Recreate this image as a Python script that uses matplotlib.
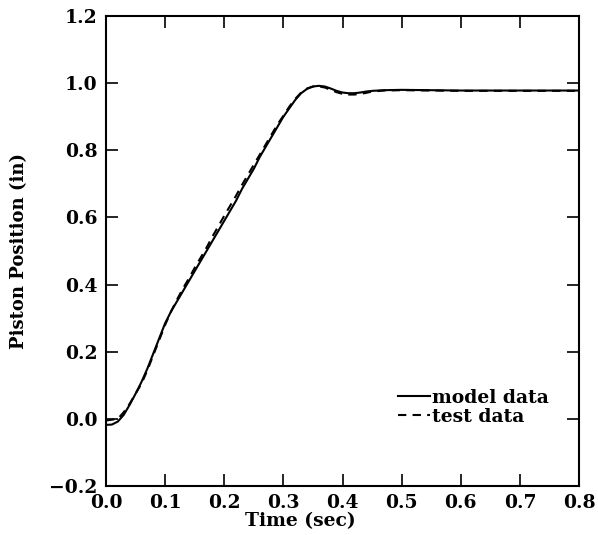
import matplotlib
matplotlib.use("Agg")
import matplotlib.pyplot as plt

# Model data (time in sec, piston position in inches)
model_t = [0.00, 0.01, 0.02, 0.03, 0.04, 0.05, 0.06, 0.07, 0.08, 0.09, 0.10,
           0.11, 0.12, 0.13, 0.14, 0.15, 0.16, 0.17, 0.18, 0.19, 0.20,
           0.21, 0.22, 0.23, 0.24, 0.25, 0.26, 0.27, 0.28, 0.29, 0.30,
           0.31, 0.32, 0.33, 0.34, 0.35, 0.36, 0.37, 0.38, 0.39, 0.40,
           0.41, 0.42, 0.43, 0.44, 0.45, 0.47, 0.50, 0.55, 0.60, 0.70, 0.80]
model_y = [-0.018, -0.017, -0.008, 0.012, 0.042, 0.075, 0.11, 0.15, 0.195, 0.24, 0.285,
           0.32, 0.35, 0.38, 0.41, 0.44, 0.47, 0.50, 0.53, 0.56, 0.59,
           0.62, 0.65, 0.685, 0.715, 0.745, 0.78, 0.81, 0.84, 0.87, 0.90,
           0.925, 0.95, 0.97, 0.983, 0.99, 0.992, 0.99, 0.984, 0.977, 0.972,
           0.970, 0.970, 0.972, 0.975, 0.977, 0.979, 0.980, 0.979, 0.978, 0.978, 0.978]

# Test data
test_t = [0.00, 0.02, 0.03, 0.04, 0.05, 0.06, 0.07, 0.08, 0.09, 0.10,
          0.11, 0.12, 0.13, 0.14, 0.15, 0.16, 0.17, 0.18, 0.19, 0.20,
          0.21, 0.22, 0.23, 0.24, 0.25, 0.26, 0.27, 0.28, 0.29, 0.30,
          0.31, 0.32, 0.33, 0.34, 0.35, 0.36, 0.37, 0.38, 0.39, 0.40,
          0.41, 0.42, 0.43, 0.44, 0.45, 0.47, 0.50, 0.55, 0.60, 0.70, 0.80]
test_y = [-0.005, 0.0, 0.02, 0.045, 0.075, 0.105, 0.145, 0.19, 0.235, 0.28,
          0.32, 0.355, 0.388, 0.418, 0.45, 0.48, 0.51, 0.543, 0.574, 0.605,
          0.635, 0.665, 0.697, 0.727, 0.757, 0.787, 0.817, 0.847, 0.877, 0.903,
          0.93, 0.953, 0.972, 0.984, 0.99, 0.99, 0.987, 0.98, 0.973, 0.968,
          0.966, 0.966, 0.968, 0.971, 0.975, 0.978, 0.979, 0.978, 0.977, 0.977, 0.977]

x_ticks = [0.0, 0.1, 0.2, 0.3, 0.4, 0.5, 0.6, 0.7, 0.8]
y_ticks = [-0.2, 0.0, 0.2, 0.4, 0.6, 0.8, 1.0, 1.2]
x_labels = ["0.0", "0.1", "0.2", "0.3", "0.4", "0.5", "0.6", "0.7", "0.8"]
y_labels = ["\u22120.2", "0.0", "0.2", "0.4", "0.6", "0.8", "1.0", "1.2"]

plt.rcParams['font.family'] = ['DejaVu Serif']
plt.rcParams['font.weight'] = 'bold'

fig = plt.figure(figsize=(5.98, 5.35), dpi=100)
ax = fig.add_axes([0.1773, 0.0916, 0.791, 0.8785])

ax.plot(model_t, model_y, color='black', lw=1.5, label='model data')
ax.plot(test_t, test_y, color='black', lw=1.5, ls=(0, (4, 3)), label='test data')

ax.set_xlim(0.0, 0.8)
ax.set_ylim(-0.2, 1.2)
ax.set_xticks(x_ticks)
ax.set_xticklabels(x_labels)
ax.set_yticks(y_ticks)
ax.set_yticklabels(y_labels)
ax.tick_params(direction='in', length=8.5, width=1.2, top=True, right=True,
               labelsize=13.5, pad=6)
for lab in ax.get_xticklabels() + ax.get_yticklabels():
    lab.set_fontweight('bold')
for sp in ax.spines.values():
    sp.set_linewidth(1.5)

ax.set_xlabel('Time (sec)', fontsize=13.5, fontweight='bold')
ax.xaxis.set_label_coords(0.41, -0.056)
ax.set_ylabel('Piston Position (in)', fontsize=13, fontweight='bold')
ax.yaxis.set_label_coords(-0.165, 0.5)

leg = ax.legend(loc='upper left', bbox_to_anchor=(0.617, 0.207), frameon=False,
                handlelength=1.7, handletextpad=0.1, labelspacing=0.05,
                borderpad=0, borderaxespad=0,
                prop={'family': 'DejaVu Serif', 'weight': 'bold', 'size': 13.5})

fig.savefig('out.png', dpi=100)
